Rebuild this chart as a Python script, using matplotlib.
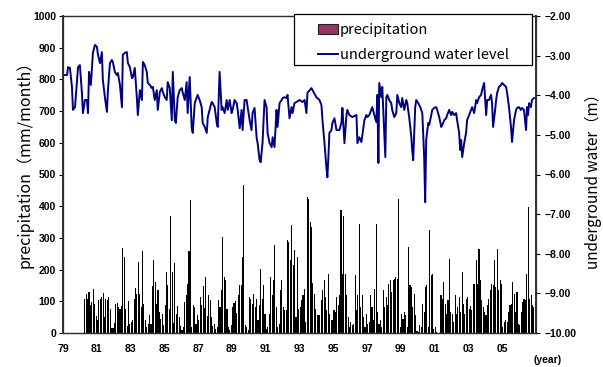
import matplotlib
matplotlib.use("Agg")
import matplotlib.pyplot as plt
from matplotlib.patches import Patch, Rectangle
from matplotlib.lines import Line2D
import pandas as pd

# ---- monthly precipitation (mm/month), Apr 1980 - Dec 2006 ----
precip = [
    108, 124, 108, 129, 87, 98, 140, 90, 53, 40, 103, 108, 114, 126, 50, 108,
    105, 114, 77, 16, 17, 32, 90, 95, 82, 77, 84, 268, 240, 77, 21, 101,
    29, 35, 40, 108, 143, 124, 224, 124, 82, 259, 93, 40, 19, 29, 56, 29,
    147, 231, 161, 93, 135, 66, 45, 61, 24, 87, 192, 150, 77, 368, 192, 32,
    221, 61, 84, 50, 21, 11, 19, 98, 119, 156, 259, 418, 19, 87, 82, 29,
    56, 42, 114, 87, 147, 79, 177, 53, 119, 103, 50, 21, 29, 14, 19, 105,
    82, 135, 303, 177, 166, 77, 19, 11, 24, 82, 95, 101, 63, 119, 150, 150,
    240, 466, 24, 19, 11, 114, 108, 90, 124, 82, 108, 40, 87, 203, 108, 150,
    61, 14, 19, 61, 177, 119, 166, 277, 82, 19, 29, 135, 166, 82, 72, 72,
    292, 287, 229, 340, 213, 261, 50, 240, 77,
    82, 103, 119, 140, 35, 429, 424, 350, 334, 158, 124, 77, 56, 56, 56, 103,
    135, 168, 114, 72, 187, 61, 40, 40, 72, 66, 114, 87, 119, 387, 187, 368,
    187, 119, 50, 19, 35, 24, 29, 182, 72, 119, 345, 82, 119, 50, 19, 61,
    29, 35, 119, 82, 40, 140, 345, 66, 29, 40, 19, 135, 82, 114, 87, 156,
    166, 129, 166, 171, 177, 171, 424, 19, 61, 45, 66, 56, 19, 271, 150, 145,
    82, 124, 56, 6, 3, 24, 19, 93, 66, 145, 150, 19, 324, 182, 187, 14,
    19, 3, 0, 0, 119, 108, 161, 93, 61, 103, 234, 66, 61, 35, 119, 61,
    82, 114, 66, 192, 93, 61, 108, 114, 77, 84, 72, 156, 156, 229, 156, 266,
    166, 103, 82, 66, 56, 87, 108, 135, 156, 150, 229, 145, 266, 135, 166, 156,
    19, 35, 40, 35, 66, 87, 93, 161, 124, 66, 129, 29, 24, 66, 98, 108,
    103, 187, 397, 108, 119, 87, 82, 98,
]

# ---- underground water level (m), read at decimal years ----
level_year = [
    1979.00, 1979.24, 1979.30, 1979.41, 1979.53, 1979.59, 1979.71, 1979.83, 1979.89, 1980.00,
    1980.12, 1980.18, 1980.30, 1980.42, 1980.48, 1980.54, 1980.65, 1980.77, 1980.89, 1981.01,
    1981.07, 1981.19, 1981.30, 1981.36, 1981.48, 1981.60, 1981.66, 1981.78, 1981.89, 1981.95,
    1982.07, 1982.19, 1982.25, 1982.37, 1982.49, 1982.54, 1982.66, 1982.78, 1982.84, 1982.96,
    1983.08, 1983.14, 1983.25, 1983.37, 1983.43, 1983.55, 1983.67, 1983.73, 1983.84, 1983.96,
    1984.02, 1984.14, 1984.26, 1984.32, 1984.43, 1984.55, 1984.61, 1984.73, 1984.85, 1984.91,
    1985.03, 1985.14, 1985.20, 1985.32, 1985.44, 1985.50, 1985.62, 1985.68, 1985.79, 1985.91,
    1986.03, 1986.09, 1986.21, 1986.32, 1986.38, 1986.50, 1986.62, 1986.68, 1986.80, 1986.92,
    1986.97, 1987.09, 1987.21, 1987.27, 1987.39, 1987.51, 1987.57, 1987.68, 1987.80, 1987.86,
    1987.98, 1988.10, 1988.16, 1988.27, 1988.39, 1988.45, 1988.57, 1988.69, 1988.75, 1988.87,
    1988.98, 1989.04, 1989.16, 1989.28, 1989.34, 1989.46, 1989.57, 1989.63, 1989.75, 1989.87,
    1989.93, 1990.05, 1990.16, 1990.22, 1990.34, 1990.46, 1990.52, 1990.64, 1990.70, 1990.81,
    1990.93, 1991.05, 1991.11, 1991.23, 1991.35, 1991.41, 1991.52, 1991.64, 1991.70, 1991.82,
    1991.94, 1992.00, 1992.11, 1992.23, 1992.29, 1992.41, 1992.53, 1992.59, 1992.70, 1992.82,
    1993.00, 1993.18, 1993.30, 1993.41, 1993.47, 1993.71, 1993.77, 1994.00, 1994.18, 1994.30,
    1994.36, 1994.48, 1994.59, 1994.65, 1994.71, 1994.77, 1994.89, 1994.95, 1995.07, 1995.19,
    1995.24, 1995.36, 1995.48, 1995.54, 1995.66, 1995.78, 1995.83, 1995.95, 1996.13, 1996.37,
    1996.43, 1996.54, 1996.66, 1996.72, 1996.84, 1996.96, 1997.02, 1997.13, 1997.25, 1997.31,
    1997.43, 1997.55, 1997.61, 1997.67, 1997.72, 1997.84, 1997.90, 1997.96, 1998.08, 1998.14,
    1998.20, 1998.31, 1998.43, 1998.49, 1998.61, 1998.73, 1998.79, 1998.91, 1999.02, 1999.08,
    1999.20, 1999.32, 1999.38, 1999.50, 1999.62, 1999.67, 1999.73, 1999.85, 1999.91, 2000.03,
    2000.15, 2000.27, 2000.38, 2000.44, 2000.50, 2000.62, 2000.68, 2000.80, 2000.86, 2000.97,
    2001.09, 2001.15, 2001.27, 2001.39, 2001.45, 2001.57, 2001.68, 2001.74, 2001.86, 2001.98,
    2002.04, 2002.16, 2002.27, 2002.33, 2002.45, 2002.51, 2002.57, 2002.63, 2002.75, 2002.86,
    2002.92, 2003.04, 2003.16, 2003.22, 2003.34, 2003.46, 2003.51, 2003.63, 2003.75, 2003.81,
    2003.93, 2004.05, 2004.11, 2004.22, 2004.34, 2004.40, 2004.46, 2004.58, 2004.64, 2004.70,
    2004.81, 2004.93, 2004.99, 2005.11, 2005.23, 2005.29, 2005.40, 2005.52, 2005.58, 2005.70,
    2005.82, 2005.88, 2005.99, 2006.11, 2006.17, 2006.29, 2006.41, 2006.47, 2006.53, 2006.59,
    2006.70, 2006.76, 2006.88,
]
level_m = [
    -3.49, -3.49, -3.29, -3.31, -3.79, -4.37, -4.30, -3.62, -3.29, -3.24,
    -3.94, -4.45, -4.12, -4.12, -4.45, -3.41, -3.74, -2.93, -2.73, -2.78,
    -2.98, -3.19, -2.91, -3.62, -4.05, -4.42, -3.87, -3.19, -3.11, -3.16,
    -3.41, -3.49, -3.44, -3.74, -4.30, -2.98, -2.93, -2.91, -3.19, -3.29,
    -3.57, -3.54, -3.31, -4.05, -4.50, -3.87, -4.12, -3.16, -3.24, -3.41,
    -3.69, -3.74, -3.82, -3.79, -4.12, -3.87, -4.37, -3.92, -3.82, -3.92,
    -4.05, -4.12, -3.67, -3.82, -4.63, -3.41, -4.63, -4.70, -4.05, -3.87,
    -3.82, -3.94, -4.12, -3.67, -4.45, -3.54, -4.83, -4.95, -4.20, -4.05,
    -3.99, -4.12, -4.30, -4.70, -4.80, -4.95, -4.55, -4.37, -4.17, -4.20,
    -4.30, -4.70, -4.80, -3.41, -4.37, -4.30, -4.45, -4.12, -4.37, -4.12,
    -4.45, -4.37, -4.12, -4.20, -4.37, -4.83, -4.37, -4.88, -4.12, -4.12,
    -4.30, -4.63, -4.88, -4.45, -4.32, -5.06, -5.21, -5.64, -5.69, -5.21,
    -4.12, -4.30, -4.95, -5.21, -5.31, -5.06, -5.31, -4.37, -4.80, -4.20,
    -4.12, -4.07, -4.05, -4.07, -3.99, -4.58, -4.30, -4.45, -4.20, -4.17,
    -4.12, -4.17, -4.12, -4.45, -3.94, -3.82, -3.87, -4.05, -4.12, -4.25,
    -4.63, -5.21, -5.81, -6.07, -5.56, -4.95, -4.88, -4.70, -4.58, -4.88,
    -4.88, -4.88, -4.70, -4.32, -5.21, -4.50, -4.37, -4.50, -4.55, -4.50,
    -5.21, -5.06, -5.18, -5.01, -4.63, -4.50, -4.55, -4.50, -4.37, -4.30,
    -4.50, -4.68, -3.99, -5.71, -3.69, -4.05, -3.79, -4.37, -5.56, -4.05,
    -3.99, -4.12, -4.20, -4.37, -4.55, -4.45, -3.99, -4.20, -4.30, -4.07,
    -4.37, -4.12, -4.20, -4.58, -5.06, -5.38, -5.64, -4.30, -4.12, -4.20,
    -4.30, -4.45, -5.56, -6.70, -5.13, -4.70, -4.75, -4.50, -4.37, -4.32,
    -4.30, -4.37, -4.55, -4.80, -4.75, -4.63, -4.58, -4.50, -4.37, -4.50,
    -4.42, -4.50, -4.45, -4.63, -4.95, -5.38, -5.13, -5.56, -5.21, -4.95,
    -4.63, -4.50, -4.37, -4.30, -4.45, -4.12, -4.20, -4.05, -3.99, -3.87,
    -3.69, -4.50, -4.12, -4.12, -3.99, -4.20, -4.80, -4.37, -4.12, -3.94,
    -3.79, -3.74, -3.69, -3.74, -3.79, -3.94, -4.30, -4.80, -5.18, -4.63,
    -4.37, -4.32, -4.30, -4.37, -4.32, -4.37, -4.88, -4.30, -4.50, -4.20,
    -4.30, -4.12, -4.07,
]

year_ticks = list(range(1979, 2007, 2))
year_labels = ["%02d" % (y % 100) for y in year_ticks]
precip_ticks = list(range(0, 1001, 100))
level_ticks = [-10, -9, -8, -7, -6, -5, -4, -3, -2]

months = pd.date_range("1980-04-01", periods=len(precip), freq="MS")
precip_x = months.year + (months.month - 0.5) / 12.0

tick_font = dict(family="Liberation Sans", weight="bold", size=7.5)
cjk = ["Noto Sans CJK JP", "DejaVu Sans"]

fig = plt.figure(figsize=(6.03, 3.67), dpi=100)
ax = fig.add_axes([63 / 603, 34 / 367, 473 / 603, 317 / 367])
ax2 = ax.twinx()

ax.bar(precip_x, precip, width=0.065, color="black", linewidth=0)
ax2.plot(level_year, level_m, color="#000080", linewidth=1.4)

ax.set_xlim(1979, 2007)
ax.set_ylim(0, 1000)
ax2.set_ylim(-10, -2)

ax.set_xticks(year_ticks)
ax.set_xticklabels(year_labels, fontdict=tick_font)
ax.set_yticks(precip_ticks)
ax.set_yticklabels([str(v) for v in precip_ticks], fontdict=tick_font)
ax2.set_yticks(level_ticks)
ax2.set_yticklabels(["\u2212%.2f" % abs(v) for v in level_ticks], fontdict=tick_font)

ax.tick_params(axis="x", length=0, pad=8)
ax.tick_params(axis="y", direction="out", length=3, width=0.8, pad=2)
ax2.tick_params(axis="y", direction="out", length=3, width=0.8, pad=3)

for a in (ax, ax2):
    for s in a.spines.values():
        s.set_color("#303030")
        s.set_linewidth(0.9)
ax2.spines["right"].set_linewidth(1.4)
ax2.spines["left"].set_linewidth(1.4)

ax.set_ylabel("precipitation\uff08mm/month\uff09", family=cjk, fontsize=11.5)
ax.yaxis.set_label_coords(-0.063, 0.544)
ax2.set_ylabel("underground water\uff08m\uff09", family=cjk, fontsize=11)
ax2.yaxis.set_label_coords(1.103, 0.489)

fig.text(548 / 603, 1 - 360 / 367, "(year)", ha="center", va="center",
         family="Liberation Sans", weight="bold", fontsize=7.5)

# legend: own frame, contents placed inside it
ax2.add_patch(Rectangle((0.4884, 0.8454), 0.5032, 0.1609, transform=ax2.transAxes,
                        facecolor="white", edgecolor="black", linewidth=0.9,
                        clip_on=False, zorder=4))
handles = [Patch(facecolor="#993366", edgecolor="#202020", linewidth=0.8),
           Line2D([], [], color="#000080", linewidth=1.4)]
leg = ax2.legend(handles, ["precipitation", "underground water level"],
                 loc="upper left", bbox_to_anchor=(0.539, 0.978), borderaxespad=0,
                 frameon=False, prop=dict(family=cjk, size=10.5), handlelength=1.35,
                 handletextpad=0.15, labelspacing=0.75, borderpad=0)
leg.set_zorder(5)

fig.savefig("out.png", dpi=100)
